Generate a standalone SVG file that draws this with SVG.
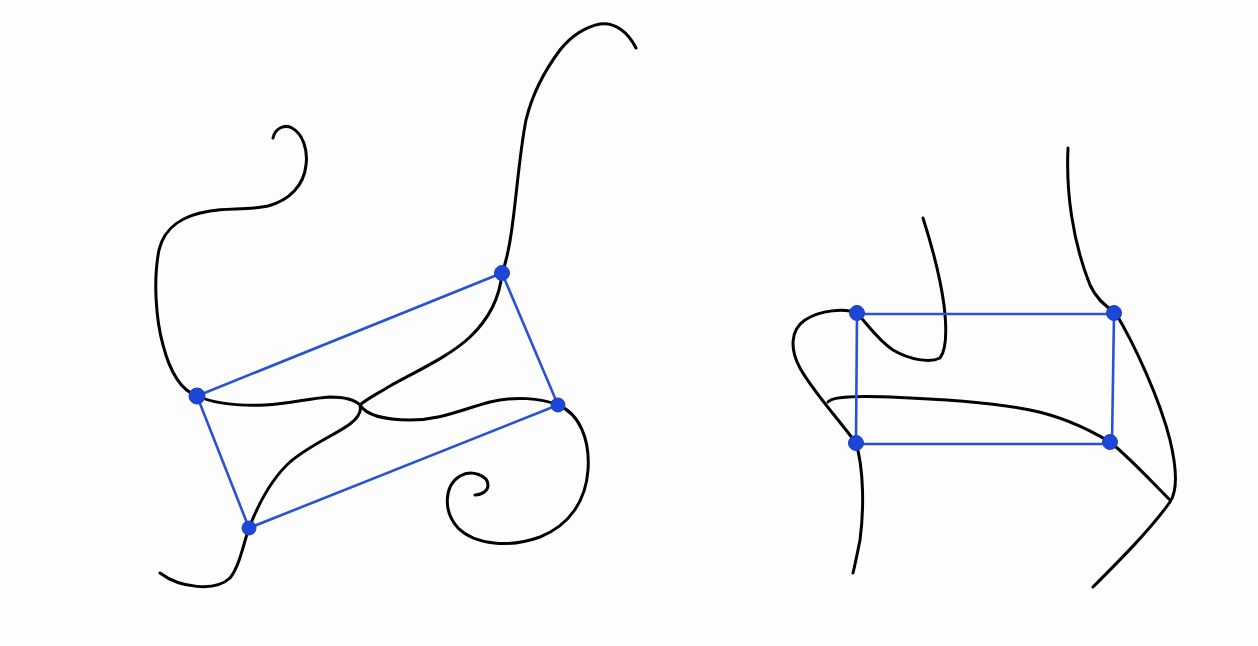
<svg xmlns="http://www.w3.org/2000/svg" width="1258" height="646" viewBox="0 0 1258 646">
<style>
.k{fill:none;stroke:#000;stroke-width:3;stroke-linecap:round;stroke-linejoin:round}
.b{fill:none;stroke:#2a52d4;stroke-width:2.6;stroke-linecap:round}
.n{fill:#1d45d8;stroke:#1a3fc8;stroke-width:1}
</style>
<rect width="1258" height="646" fill="#fdfdfd"/>
<g id="curves">
<path class="k" d="M273,138 C275,128 285,124 292,128 C303,134 308,150 306,165 C304,185 290,200 268,206 C250,210 225,208 210,211 C185,215 165,225 159,250 C153,280 156,320 163,345 C170,372 180,390 197,396 C215,404 240,406 265,405 C290,404 310,398 330,397 C345,397 355,400 360,405 C362,412 358,418 350,424 C335,435 310,445 290,462 C270,480 258,505 249,528 C243,545 240,565 230,578 C215,592 180,588 160,573"/>
<path class="k" d="M636,48 C628,32 615,22 600,24 C585,27 572,35 560,50 C545,70 532,95 526,120 C520,150 517,190 513,220 C510,245 507,260 502,273 C500,295 490,318 470,337 C450,356 415,372 390,386 C375,395 365,400 360,405 C366,415 385,420 410,420 C440,420 460,410 490,402 C515,396 540,398 558,405 C580,414 590,440 588,470 C586,500 570,525 540,537 C510,548 475,545 458,528 C442,510 445,485 460,476 C472,469 488,476 488,485 C488,492 480,495 475,495"/>
<path class="k" d="M923,218 C930,240 940,275 944,305 C947,330 946,350 940,358 C930,363 910,360 893,350 C878,340 868,325 857,313 C845,308 820,310 805,320 C790,330 790,350 800,368 C812,390 835,415 856,443 C864,470 864,510 860,540 C857,555 855,565 853,573"/>
<path class="k" d="M828,402 C832,396 860,396 890,397 C940,399 990,402 1030,410 C1060,416 1090,430 1110,442 C1130,458 1150,480 1170,500"/>
<path class="k" d="M1068,148 C1066,190 1072,240 1090,285 C1097,300 1108,308 1115,312 C1135,345 1160,400 1170,440 C1176,465 1178,490 1170,502 C1150,530 1120,560 1093,587"/>
</g>
<g id="connectors">
<polygon class="b" points="197,396 502,273 558,405 249,528"/>
<polygon class="b" points="857,314 1114,314 1112,444 856,444"/>
</g>
<g id="node-l1"><circle class="n" cx="197" cy="396" r="8"/></g>
<g id="node-l2"><circle class="n" cx="502" cy="273" r="7.5"/></g>
<g id="node-l3"><circle class="n" cx="558" cy="405" r="7"/></g>
<g id="node-l4"><circle class="n" cx="249" cy="528" r="7"/></g>
<g id="node-r1"><circle class="n" cx="857" cy="313" r="7.5"/></g>
<g id="node-r2"><circle class="n" cx="1114" cy="313" r="7.5"/></g>
<g id="node-r3"><circle class="n" cx="1110" cy="442" r="7.5"/></g>
<g id="node-r4"><circle class="n" cx="856" cy="443" r="7.5"/></g>
</svg>
